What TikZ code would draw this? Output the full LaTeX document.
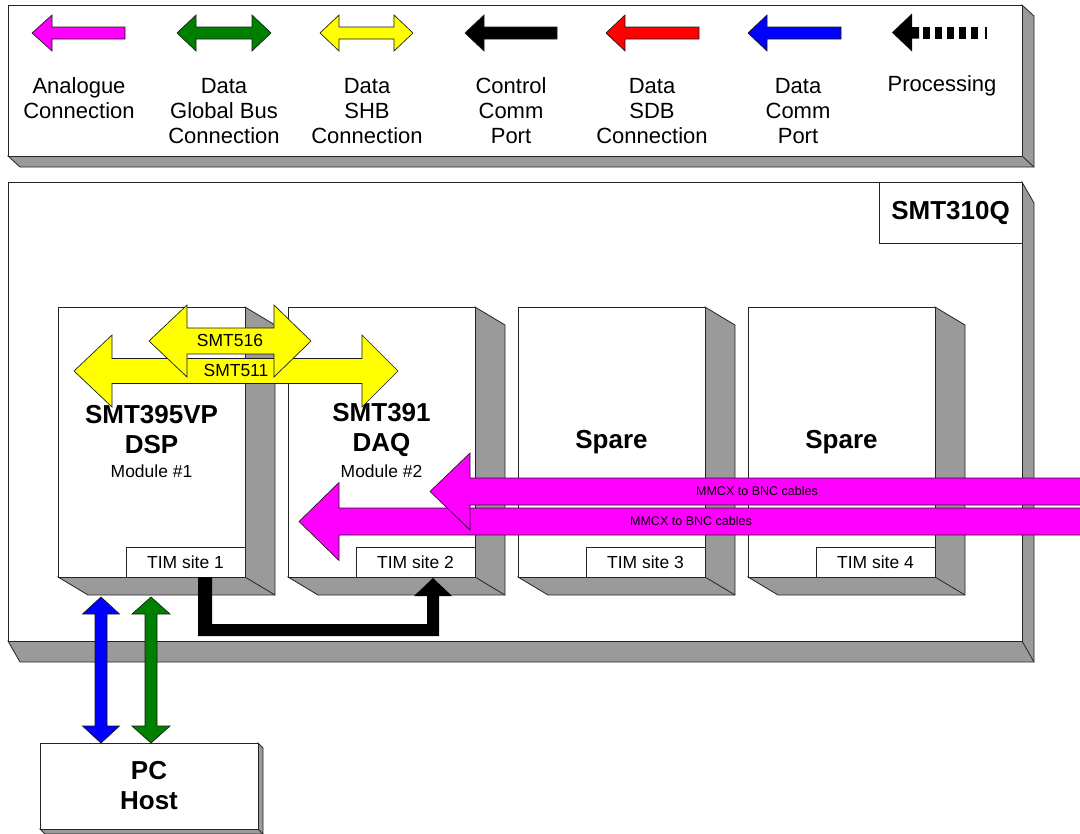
\documentclass[tikz,border=0pt]{standalone}
\usepackage{fontspec}
\setmainfont{Liberation Sans}
\definecolor{shade}{HTML}{9A9A9A}
\definecolor{cmag}{HTML}{FF00FF}
\definecolor{cgreen}{HTML}{008000}
\definecolor{cyellow}{HTML}{FFFF00}
\definecolor{cred}{HTML}{FF0000}
\definecolor{cblue}{HTML}{0000FF}
\newcommand\threedbox[7]{%
  \filldraw[depthface] (#4,#3) -- (#4+#6,#3+#7) -- (#4+#6,#5+#7) -- (#2+#6,#5+#7) -- (#2,#5) -- (#4,#5) -- cycle;
  \draw[depthface] (#4,#5) -- (#4+#6,#5+#7);
  \node[frontface, anchor=north west, minimum width={(#4-#2)*0.75pt}, minimum height={(#5-#3)*0.75pt}] (#1) at (#2,#3) {};}
\newcommand\myLArrow[7]{%
  \filldraw[blockarrow,#1] (#2,#5) -- (#3,#5-#6) -- (#3,#5-#7) -- (#4,#5-#7) -- (#4,#5+#7) -- (#3,#5+#7) -- (#3,#5+#6) -- cycle;}
\newcommand\myHDArrow[8]{%
  \filldraw[blockarrow,#1] (#2,#6) -- (#3,#6-#7) -- (#3,#6-#8) -- (#4,#6-#8) -- (#4,#6-#7) -- (#5,#6) -- (#4,#6+#7) -- (#4,#6+#8) -- (#3,#6+#8) -- (#3,#6+#7) -- cycle;}
\newcommand\myVDArrow[8]{%
  \filldraw[blockarrow,#1] (#2,#3) -- (#2+#7,#4) -- (#2+#8,#4) -- (#2+#8,#5) -- (#2+#7,#5) -- (#2,#6) -- (#2-#7,#5) -- (#2-#8,#5) -- (#2-#8,#4) -- (#2-#7,#4) -- cycle;}
\begin{document}
\begin{tikzpicture}[x=0.75pt,y=-0.75pt,line join=miter,
  frontface/.style={draw=black!85, line width=0.6pt, fill=white, inner sep=0pt, outer sep=0pt},
  depthface/.style={draw=black!85, line width=0.6pt, fill=shade},
  blockarrow/.style={draw=black!90, line width=0.5pt},
  legtext/.style={font=\fontsize{16.5}{18.75}\selectfont, align=center, inner sep=0pt},
  titletext/.style={font=\bfseries\fontsize{19.5}{22.5}\selectfont, align=center, inner sep=0pt},
  smalltext/.style={font=\fontsize{13.1}{15}\selectfont, inner sep=0pt},
  tinytext/.style={font=\fontsize{9.4}{10}\selectfont, inner sep=0pt}]
\useasboundingbox (0,0) rectangle (1080,833);
\fill[white] (0,0) rectangle (1080,833);

% ---------- legend ----------
\threedbox{legend}{8}{5}{1022}{156}{12}{11}
\myLArrow{fill=cmag}{32}{52}{125}{33}{18}{6}
\myHDArrow{fill=cgreen}{177}{196}{252}{271}{33}{18}{6}
\myHDArrow{fill=cyellow}{320}{339}{394}{413}{33}{18}{6}
\myLArrow{fill=black}{465}{484}{557}{33}{18}{6}
\myLArrow{fill=cred}{606}{625}{699}{33}{18}{6}
\myLArrow{fill=cblue}{748}{767}{841}{33}{18}{6}
\fill[black] (892,32.5) -- (912,13.5) -- (912,27) -- (919,27) -- (919,38.5) -- (912,38.5) -- (912,51.5) -- cycle;
\foreach \i in {0,...,4} \fill[black] (923+12*\i,27) rectangle ++(7.3,11.5);
\fill[black] (985,27) rectangle (987,38.5);

\node[legtext] (lg1) at (79,98.5) {Analogue\\Connection};
\node[legtext] (lg2) at (224,111) {Data\\Global Bus\\Connection};
\node[legtext] (lg3) at (367,111) {Data\\SHB\\Connection};
\node[legtext] (lg4) at (511,111) {Control\\Comm\\Port};
\node[legtext] (lg5) at (652,111) {Data\\SDB\\Connection};
\node[legtext] (lg6) at (798,111) {Data\\Comm\\Port};
\node[legtext] (lg7) at (942,86) {Processing};

% ---------- carrier board ----------
\threedbox{board}{8}{182}{1022}{641}{12}{21}
\node[frontface, anchor=north west, minimum width={143*0.75pt}, minimum height={61*0.75pt}, font=\bfseries\fontsize{19.5}{22.5}\selectfont] (boardlabel) at (879,182) {SMT310Q};

% ---------- modules ----------
\threedbox{m1}{58}{307}{245}{577}{30}{18}
\threedbox{m2}{288}{307}{475}{577}{30}{18}
\threedbox{m3}{518}{307}{705}{577}{30}{18}
\threedbox{m4}{748}{307}{935}{577}{30}{18}

\foreach \n/\x in {1/245,2/475,3/705,4/935}
  \node[frontface, smalltext, anchor=south east, minimum width={119*0.75pt}, minimum height={30*0.75pt}] (tim\n) at (\x,577) {TIM site \n};

\node[titletext] (t1) at (151.5,430) {SMT395VP\\DSP};
\node[smalltext] (s1) at (151.5,471) {Module \#1};
\node[titletext] (t2) at (381.5,430) {SMT391\\DAQ};
\node[smalltext] (s2) at (381.5,471) {Module \#2};
\node[titletext] (t3) at (611.5,442) {Spare};
\node[titletext] (t4) at (841.5,442) {Spare};

% ---------- PC host ----------
\threedbox{pc}{40}{743}{258}{829}{5}{5}
\node[titletext] (pct) at (149,785.5) {PC\\Host};

% ---------- SHB links ----------
\myHDArrow{fill=cyellow}{74}{112}{362}{398}{371}{36}{12.5}
\myHDArrow{fill=cyellow}{149}{187}{274}{311}{341}{36}{13}
\node[smalltext] (l516) at (230,340) {SMT516};
\node[smalltext] (l511) at (236,370) {SMT511};

% ---------- analogue cables ----------
\myLArrow{fill=cmag}{299}{339}{1100}{521.5}{39}{13.5}
\myLArrow{fill=cmag}{430}{470}{1100}{491.5}{38.5}{13.5}
\node[tinytext] (c1) at (757,491) {MMCX to BNC cables};
\node[tinytext] (c2) at (691,521) {MMCX to BNC cables};

% ---------- control comm port (TIM 1 -> TIM 2) ----------
\fill[black] (tim1.south -| 198,0) -- (198,636) -- (439,636) -- (439,596) -- (452,596) -- (433,578) -- (414,596) -- (427,596) -- (427,624) -- (212,624) -- (tim1.south -| 212,0) -- cycle;

% ---------- host links ----------
\myVDArrow{fill=cblue}{101}{597}{614}{726}{743}{18.5}{6}
\myVDArrow{fill=cgreen}{151}{597}{614}{726}{743}{19}{6}
\end{tikzpicture}
\end{document}
